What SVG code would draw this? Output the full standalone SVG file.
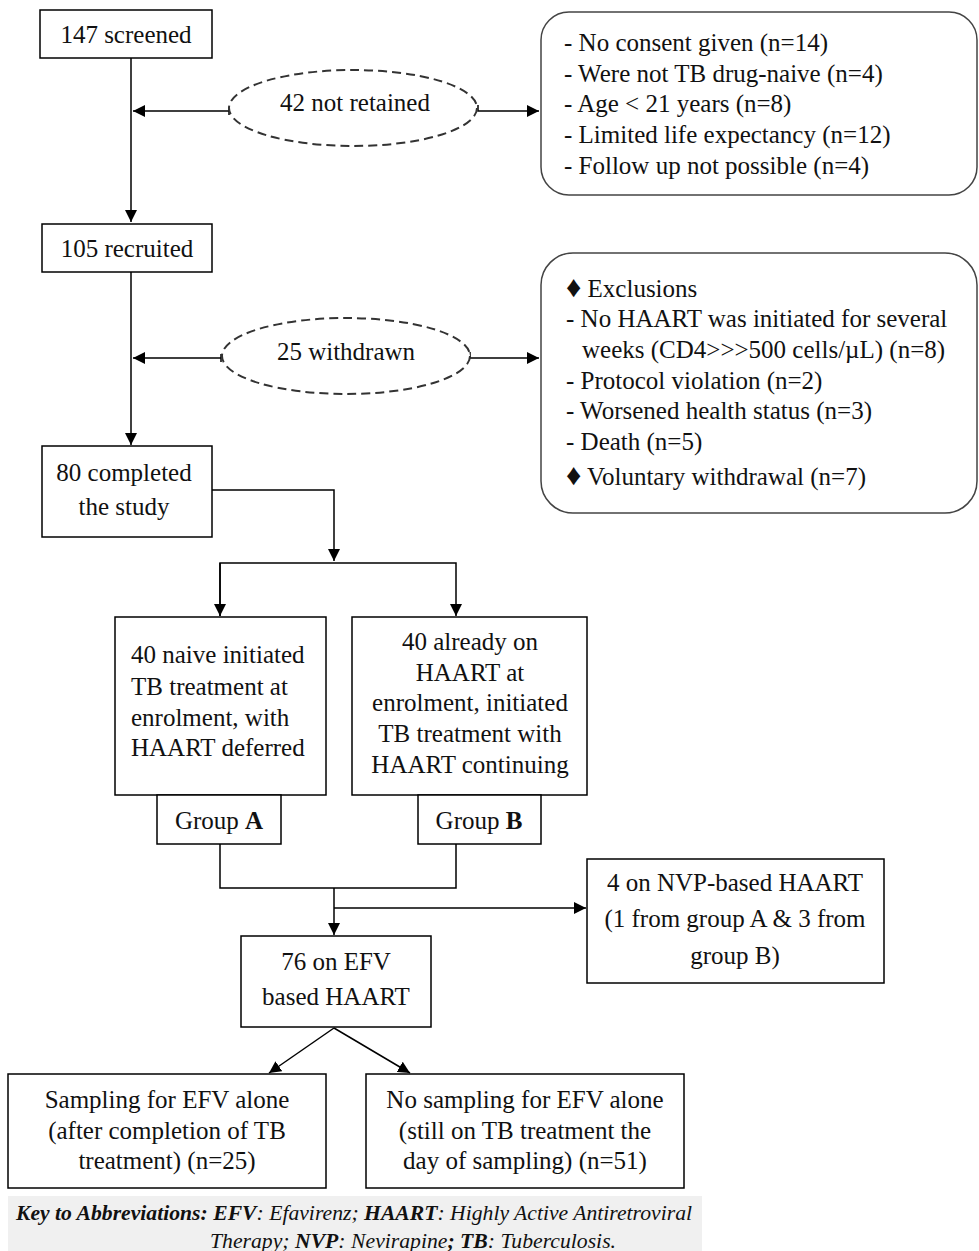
<svg xmlns="http://www.w3.org/2000/svg" width="979" height="1251" viewBox="0 0 979 1251">
<style>
.bx{fill:#fff;stroke:#000;stroke-width:1.5}
.rb{fill:#fff;stroke:#444;stroke-width:1.5}
.el{fill:#fff;stroke:#333;stroke-width:2;stroke-dasharray:9 5}
.ln{fill:none;stroke:#000;stroke-width:1.5}
text{font-family:"Liberation Serif","Times New Roman",serif;font-size:25px;fill:#111}
.c{text-anchor:middle}
.k{font-size:21px;font-style:italic}
.b{font-weight:bold}
.d{font-size:30px}
</style>
<defs>
<marker id="ah" markerWidth="12" markerHeight="12" refX="10" refY="5" orient="auto" markerUnits="userSpaceOnUse" viewBox="0 0 10 10">
<path d="M0,0 L10,5 L0,10 z" fill="#000"/>
</marker>
</defs>
<g id="connectors">
<path class="ln" d="M131,58 V222" marker-end="url(#ah)"/>
<path class="ln" d="M229,107 V115 M229,111 H133" marker-end="url(#ah)"/>
<path class="ln" d="M478,105 V111 H539" marker-end="url(#ah)"/>
<path class="ln" d="M131,272 V445" marker-end="url(#ah)"/>
<path class="ln" d="M221,354 V362 M221,358 H133" marker-end="url(#ah)"/>
<path class="ln" d="M470,352 V358 H539" marker-end="url(#ah)"/>
<path class="ln" d="M212,490 H334 V561" marker-end="url(#ah)"/>
<path class="ln" d="M220,616 V563 H456 V616" marker-end="url(#ah)"/>
<path class="ln" d="M220,563 V616" marker-end="url(#ah)"/>
<path class="ln" d="M220,844 V888 H456 V844"/>
<path class="ln" d="M334,888 V935" marker-end="url(#ah)"/>
<path class="ln" d="M334,908 H586" marker-end="url(#ah)"/>
<path class="ln" d="M334,1028 L269,1073" marker-end="url(#ah)"/>
<path class="ln" d="M334,1028 L410,1073" marker-end="url(#ah)"/>
</g>
<g id="n-screened"><rect class="bx" x="40" y="10" width="172" height="48"/><text class="c" x="126" y="43">147 screened</text></g>
<g id="n-notretained"><ellipse class="el" cx="353" cy="108" rx="124" ry="38"/><text class="c" x="355" y="111">42 not retained</text></g>
<g id="n-reasons1"><rect class="rb" x="541" y="12" width="436" height="183" rx="28"/>
<text x="564" y="51">- No consent given (n=14)</text>
<text x="564" y="82">- Were not TB drug-naive (n=4)</text>
<text x="564" y="112">- Age &lt; 21 years (n=8)</text>
<text x="564" y="143">- Limited life expectancy (n=12)</text>
<text x="564" y="174">- Follow up not possible (n=4)</text></g>
<g id="n-recruited"><rect class="bx" x="42" y="224" width="170" height="48"/><text class="c" x="127" y="257">105 recruited</text></g>
<g id="n-withdrawn"><ellipse class="el" cx="346" cy="356" rx="124" ry="38"/><text class="c" x="346" y="360">25 withdrawn</text></g>
<g id="n-reasons2"><rect class="rb" x="541" y="253" width="436" height="260" rx="32"/>
<text x="566" y="297"><tspan class="d">♦</tspan> Exclusions</text>
<text x="566" y="327">- No HAART was initiated for several</text>
<text x="582" y="358">weeks (CD4&gt;&gt;&gt;500 cells/µL) (n=8)</text>
<text x="566" y="389">- Protocol violation (n=2)</text>
<text x="566" y="419">- Worsened health status (n=3)</text>
<text x="566" y="450">- Death (n=5)</text>
<text x="566" y="485"><tspan class="d">♦</tspan> Voluntary withdrawal (n=7)</text></g>
<g id="n-completed"><rect class="bx" x="42" y="446" width="170" height="91"/><text class="c" x="124" y="481">80 completed</text><text class="c" x="124" y="515">the study</text></g>
<g id="n-groupA"><rect class="bx" x="115" y="617" width="211" height="178"/>
<text x="131" y="663">40 naive initiated</text>
<text x="131" y="695">TB treatment at</text>
<text x="131" y="726">enrolment, with</text>
<text x="131" y="756">HAART deferred</text>
<rect class="bx" x="157" y="795" width="124" height="49"/><text class="c" x="219" y="829">Group <tspan class="b">A</tspan></text></g>
<g id="n-groupB"><rect class="bx" x="352" y="617" width="235" height="178"/>
<text class="c" x="470" y="650">40 already on</text>
<text class="c" x="470" y="681">HAART at</text>
<text class="c" x="470" y="711">enrolment, initiated</text>
<text class="c" x="470" y="742">TB treatment with</text>
<text class="c" x="470" y="773">HAART continuing</text>
<rect class="bx" x="418" y="795" width="123" height="49"/><text class="c" x="479" y="829">Group <tspan class="b">B</tspan></text></g>
<g id="n-nvp"><rect class="bx" x="587" y="859" width="297" height="124"/>
<text class="c" x="735" y="891">4 on NVP-based HAART</text>
<text class="c" x="735" y="927">(1 from group A &amp; 3 from</text>
<text class="c" x="735" y="964">group B)</text></g>
<g id="n-efv"><rect class="bx" x="241" y="936" width="190" height="91"/>
<text class="c" x="336" y="970">76 on EFV</text>
<text class="c" x="336" y="1005">based HAART</text></g>
<g id="n-sampling"><rect class="bx" x="8" y="1074" width="318" height="114"/>
<text class="c" x="167" y="1108">Sampling for EFV alone</text>
<text class="c" x="167" y="1139">(after completion of TB</text>
<text class="c" x="167" y="1169">treatment) (n=25)</text></g>
<g id="n-nosampling"><rect class="bx" x="366" y="1074" width="318" height="114"/>
<text class="c" x="525" y="1108">No sampling for EFV alone</text>
<text class="c" x="525" y="1139">(still on TB treatment the</text>
<text class="c" x="525" y="1169">day of sampling) (n=51)</text></g>
<g id="key"><rect x="8" y="1196" width="694" height="55" fill="#f0f0f0"/>
<text class="k" x="16" y="1220" textLength="676" lengthAdjust="spacingAndGlyphs"><tspan class="b">Key to Abbreviations: EFV</tspan>: Efavirenz; <tspan class="b">HAART</tspan>: Highly Active Antiretroviral</text>
<text class="k" x="210" y="1248" textLength="406" lengthAdjust="spacingAndGlyphs">Therapy; <tspan class="b">NVP</tspan>: Nevirapine<tspan class="b">; TB</tspan>: Tuberculosis.</text></g>
</svg>
